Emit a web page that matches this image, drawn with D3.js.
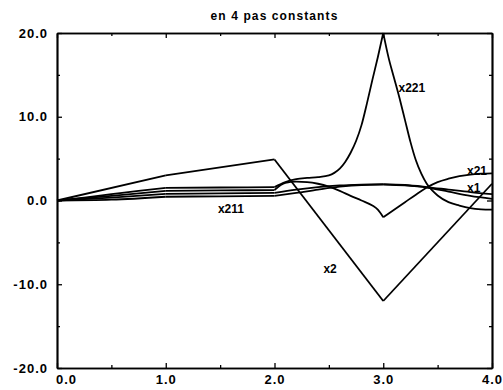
<!DOCTYPE html>
<html>
<head>
<meta charset="utf-8">
<script src="https://cdn.jsdelivr.net/npm/d3@7"></script>
<style>
  body { margin: 0; background: #fff; }
  text { font-family: "Liberation Sans", Arial, sans-serif; font-weight: bold; fill: #000; }
</style>
</head>
<body>
<div id="chart"></div>
<script>
// values, [t, value]
var x2   = [[0, 0], [1, 3.0], [2, 4.9], [3, -12], [4, 2.0]];
var x221 = [[0, 0], [0.25, 0.35], [0.5, 0.75], [0.75, 1.15], [1, 1.5], [1.5, 1.55], [2, 1.6],
            [2.1, 2.2], [2.2, 2.55], [2.3, 2.7], [2.4, 2.8], [2.5, 3.0], [2.55, 3.3], [2.6, 3.8],
            [2.65, 4.6], [2.7, 5.7], [2.75, 7.1], [2.8, 9.0], [2.85, 11.6], [2.9, 14.4],
            [2.95, 17.1], [3, 20], [3.05, 17.0], [3.1, 14.6], [3.15, 12.2], [3.2, 9.6],
            [3.25, 7.0], [3.3, 4.8], [3.35, 3.2], [3.4, 2.0], [3.45, 1.2], [3.5, 0.6],
            [3.6, -0.2], [3.7, -0.6], [3.8, -0.9], [3.9, -1.05], [4, -1.1]];
var x21  = [[0, 0], [0.5, 0.55], [1, 1.15], [1.5, 1.2], [2, 1.25], [2.1, 2.1], [2.2, 2.25],
            [2.3, 2.2], [2.4, 2.0], [2.5, 1.65], [2.6, 1.15], [2.7, 0.55], [2.8, 0.0],
            [2.9, -0.6], [2.95, -1.1], [3, -2.0], [3.1, -1.1], [3.2, -0.2], [3.3, 0.7],
            [3.4, 1.55], [3.5, 2.2], [3.6, 2.6], [3.7, 2.9], [3.8, 3.1], [3.9, 3.2], [4, 3.25]];
var x1   = [[0, 0], [0.5, 0.35], [1, 0.8], [1.5, 0.85], [2, 0.9], [2.2, 1.3], [2.4, 1.6],
            [2.6, 1.8], [2.8, 1.9], [3, 1.95], [3.2, 1.85], [3.4, 1.6], [3.6, 1.3], [3.8, 1.0], [4, 0.75]];
var x211 = [[0, 0], [0.5, 0.1], [1, 0.45], [1.5, 0.5], [2, 0.55], [2.2, 0.9], [2.4, 1.3],
            [2.6, 1.65], [2.8, 1.85], [3, 1.9], [3.2, 1.8], [3.4, 1.55], [3.6, 1.05], [3.8, 0.55], [4, 0.2]];

var xTicks = [0, 1, 2, 3, 4];
var xMinor = [0.5, 1.5, 2.5, 3.5];
var yTicks = [-20, -10, 0, 10, 20];
var yMinor = [-15, -5, 5, 15];
var steps = [0, 1, 2, 3];

var labels = [
  {name: "x221", t: 3.14, v: 12.9},
  {name: "x21",  t: 3.77, v: 3.0},
  {name: "x1",   t: 3.77, v: 0.96},
  {name: "x211", t: 1.48, v: -1.44},
  {name: "x2",   t: 2.45, v: -8.7}
];

var width = 503, height = 390,
    margin = {top: 33, right: 11, bottom: 22, left: 57};
var w = width - margin.left - margin.right,
    h = height - margin.top - margin.bottom;

var svg = d3.select("#chart").append("svg")
    .attr("width", width)
    .attr("height", height);

var g = svg.append("g")
    .attr("transform", "translate(" + margin.left + "," + margin.top + ")");

var x = d3.scaleLinear().domain([0, 4]).range([0, w]);
var y = d3.scaleLinear().domain([-20, 20]).range([h, 0]);

var fmt = function(d) { return d.toFixed(1); };

svg.append("text")
    .attr("x", margin.left + w / 2)
    .attr("y", 20)
    .attr("text-anchor", "middle")
    .style("font-size", "12px")
    .style("letter-spacing", "1.1px")
    .text("en 4 pas constants");

// ticks all point inward
function ticks(axis, vals, size) {
  return axis.tickValues(vals).tickSize(-size).tickSizeOuter(0);
}

g.append("g")
    .attr("transform", "translate(0," + h + ")")
    .call(ticks(d3.axisBottom(x), xMinor, 3).tickFormat(""));
g.append("g")
    .call(ticks(d3.axisTop(x), xMinor, 3).tickFormat(""));
g.append("g")
    .call(ticks(d3.axisLeft(y), yMinor, 3).tickFormat(""));
g.append("g")
    .attr("transform", "translate(" + w + ",0)")
    .call(ticks(d3.axisRight(y), yMinor, 3).tickFormat(""));

var xAxis = g.append("g")
    .attr("transform", "translate(0," + h + ")")
    .call(ticks(d3.axisBottom(x), xTicks, 5).tickFormat(fmt).tickPadding(8));
g.append("g")
    .call(ticks(d3.axisTop(x), xTicks, 5).tickFormat(""));
g.append("g")
    .call(ticks(d3.axisLeft(y), yTicks, 5).tickFormat(fmt).tickPadding(9));
g.append("g")
    .attr("transform", "translate(" + w + ",0)")
    .call(ticks(d3.axisRight(y), yTicks, 5).tickFormat(""));

g.selectAll(".domain").attr("stroke", "#000").attr("stroke-width", 1.7);
g.selectAll(".tick line").attr("stroke", "#000").attr("stroke-width", 1.3);
g.selectAll(".tick text")
    .style("font-family", "'Liberation Sans', Arial, sans-serif")
    .style("font-weight", "bold")
    .style("font-size", "13px")
    .style("letter-spacing", "1px")
    .attr("fill", "#000");
xAxis.selectAll(".tick text").attr("dy", "0.6em")
    .filter(function(d) { return d === 0; }).attr("dx", 9);

var line = d3.line()
    .x(function(d) { return x(d[0]); })
    .y(function(d) { return y(d[1]); })
    .curve(d3.curveMonotoneX);

// every step is smooth, joins between steps are kinks
function pieces(data) {
  return steps.map(function(s) {
    return data.filter(function(d) { return d[0] >= s && d[0] <= s + 1; });
  });
}

[x2, x221, x21, x1, x211].forEach(function(series) {
  g.selectAll(null)
      .data(pieces(series))
    .enter().append("path")
      .attr("d", line)
      .attr("fill", "none")
      .attr("stroke", "#000")
      .attr("stroke-width", 1.8)
      .attr("stroke-linejoin", "round");
});

g.selectAll(".lbl")
    .data(labels)
  .enter().append("text")
    .attr("class", "lbl")
    .attr("x", function(d) { return x(d.t); })
    .attr("y", function(d) { return y(d.v); })
    .style("font-size", "12px")
    .text(function(d) { return d.name; });
</script>
</body>
</html>
